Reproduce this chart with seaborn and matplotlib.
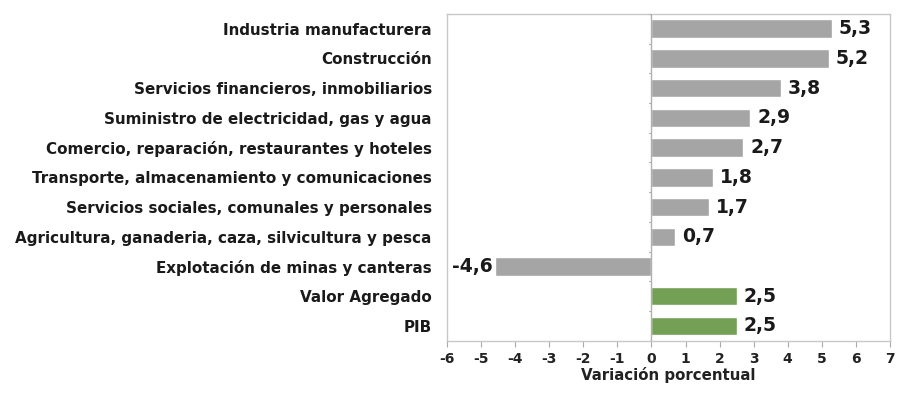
import matplotlib
matplotlib.use("Agg")
import matplotlib.pyplot as plt
import seaborn as sns
import pandas as pd

categories = [
    "Industria manufacturera",
    "Construcción",
    "Servicios financieros, inmobiliarios",
    "Suministro de electricidad, gas y agua",
    "Comercio, reparación, restaurantes y hoteles",
    "Transporte, almacenamiento y comunicaciones",
    "Servicios sociales, comunales y personales",
    "Agricultura, ganaderia, caza, silvicultura y pesca",
    "Explotación de minas y canteras",
    "Valor Agregado",
    "PIB",
]
values = [5.3, 5.2, 3.8, 2.9, 2.7, 1.8, 1.7, 0.7, -4.6, 2.5, 2.5]
groups = ["sector"] * 9 + ["total"] * 2
xticks = list(range(-6, 8))

df = pd.DataFrame({"cat": categories, "val": values, "grp": groups})

sns.set_theme(style="white")
plt.rcParams["font.family"] = ["DejaVu Sans"]

fig = plt.figure(figsize=(9.17, 3.94), dpi=100)
ax = fig.add_axes([0.4875, 0.135, 0.483, 0.83])

sns.barplot(data=df, x="val", y="cat", hue="grp", orient="h",
            palette={"sector": "#a5a5a5", "total": "#70ad47"},
            width=0.62, dodge=False, legend=False, ax=ax)

ax.set_xlim(-6, 7)
ax.set_ylim(len(categories) - 0.5, -0.5)
ax.set_xticks(xticks)
ax.set_xticklabels([str(t) for t in xticks], fontsize=10, fontweight="bold", color="#222222")
ax.set_ylabel("")
ax.set_xlabel("Variación porcentual", fontsize=10.8, fontweight="bold", color="#222222", labelpad=1)
ax.tick_params(axis="y", length=0, labelsize=10.9, pad=11)
for lab in ax.get_yticklabels():
    lab.set_fontweight("bold")
    lab.set_color("#1a1a1a")
ax.tick_params(axis="x", bottom=True, length=4, width=0.8, color="#aaaaaa", pad=4)

for s in ax.spines.values():
    s.set_color("#c8c8c8")
    s.set_linewidth(1.0)

ax.axvline(0, color="#b0b0b0", lw=1.0, zorder=3)
for i in range(len(categories) + 1):
    ax.plot([-0.08, 0], [i - 0.5, i - 0.5], color="#b0b0b0", lw=0.8, zorder=3)

for i, v in enumerate(values):
    txt = f"{v:.1f}".replace(".", ",")
    if v >= 0:
        ax.text(v + 0.2, i, txt, va="center", ha="left", fontsize=13.5,
                fontweight="bold", color="#1a1a1a")
    else:
        ax.text(v - 0.05, i, txt, va="center", ha="right", fontsize=13.5,
                fontweight="bold", color="#1a1a1a")

fig.savefig("out.png", dpi=100)
